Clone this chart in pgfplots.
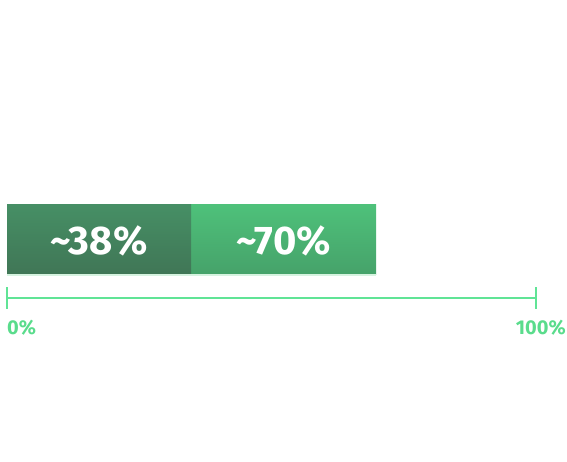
\documentclass[border=0pt]{standalone}
\usepackage{pgfplots}
\pgfplotsset{compat=1.18}
\usepackage{fontspec}
\setmainfont{Fira Sans}
\definecolor{darkTop}{RGB}{70,143,101}
\definecolor{darkBot}{RGB}{64,118,86}
\definecolor{lightTop}{RGB}{78,193,122}
\definecolor{lightBot}{RGB}{70,162,106}
\definecolor{axisgreen}{RGB}{96,228,150}
\definecolor{labelgreen}{RGB}{90,220,140}
\definecolor{shadow}{RGB}{214,243,224}
\begin{document}
\begin{tikzpicture}[x=1pt,y=1pt]
\path[use as bounding box] (0,0) rectangle (567,462);
\begin{axis}[
  at={(7pt,164pt)}, anchor=south west,
  scale only axis, width=529pt, height=94pt,
  xmin=0, xmax=100, ymin=0, ymax=94,
  xbar stacked, bar width=70pt, bar shift=0pt,
  axis x line*=bottom, axis y line=none,
  x axis line style={-, color=axisgreen, line width=1.5pt},
  xtick={0,100}, xticklabels={},
  tick align=center, major tick length=22pt,
  xtick style={color=axisgreen, line width=1.5pt},
  clip=false,
]
\addplot[draw=none, top color=darkTop, middle color=darkTop, bottom color=darkBot] coordinates {(34.8,58.5)};
\addplot[draw=none, top color=lightTop, middle color=lightTop, bottom color=lightBot] coordinates {(35.0,58.5)};
\coordinate (s1) at (axis cs:0,22.9);
\coordinate (s2) at (axis cs:69.8,22.9);
\coordinate (l1) at (axis cs:17.4,57);
\coordinate (l2) at (axis cs:52.3,57);
\coordinate (t0) at (axis cs:0,-30);
\coordinate (t1) at (axis cs:100,-30);
\end{axis}
\draw[shadow, line width=1.2pt] (s1) -- (s2);
\node[white, font=\fontsize{40}{40}\selectfont\bfseries] at (l1) {\textasciitilde 38\%};
\node[white, font=\fontsize{40}{40}\selectfont\bfseries] at (l2) {\textasciitilde 70\%};
\node[labelgreen, anchor=west, inner sep=0pt, font=\fontsize{20}{20}\selectfont\bfseries] at (t0) {0\%};
\node[labelgreen, anchor=east, inner sep=0pt, font=\fontsize{20}{20}\selectfont\bfseries] at ([xshift=30pt]t1) {100\%};
\end{tikzpicture}
\end{document}
